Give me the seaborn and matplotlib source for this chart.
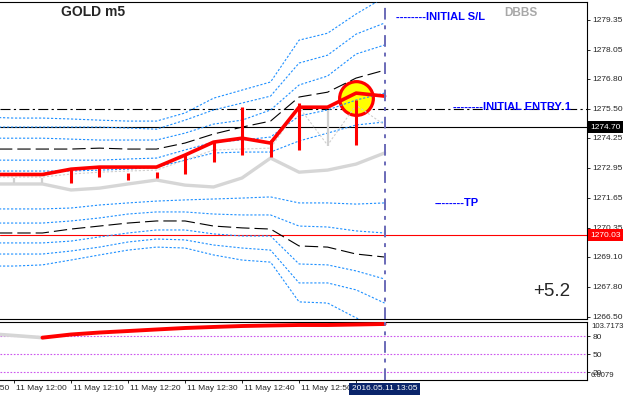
import numpy as np
import pandas as pd
import matplotlib
matplotlib.use('Agg')
import matplotlib.pyplot as plt
import matplotlib.transforms as mtransforms
import seaborn as sns

# 5 minute bars, 11:55 is only partly on screen
times = ['11:55', '12:00', '12:05', '12:10', '12:15', '12:20', '12:25', '12:30',
         '12:35', '12:40', '12:45', '12:50', '12:55', '13:00', '13:05']

# close line and the light gray lines under it
close_line = [1272.66, 1272.66, 1272.66, 1272.89, 1272.98, 1272.98, 1272.98, 1273.50,
              1274.06, 1274.23, 1274.02, 1275.57, 1275.57, 1276.18, 1276.05]
gray_line = [1272.25, 1272.25, 1272.25, 1271.99, 1272.07, 1272.25, 1272.42, 1272.20,
             1272.12, 1272.51, 1273.37, 1272.76, 1272.85, 1273.11, 1273.59]
gray_dots = [1272.55, 1272.55, 1272.55, 1272.68, 1272.76, 1272.81, 1272.85, 1273.28,
             1273.72, 1273.76, 1273.80, 1275.57, 1273.93, 1275.66, 1274.80]

# upper band set
up_mid = [1273.76, 1273.76, 1273.76, 1273.76, 1273.80, 1273.76, 1273.76, 1274.02,
          1274.41, 1274.71, 1274.97, 1276.01, 1276.22, 1276.83, 1277.17]
up_p3 = [1275.14, 1275.10, 1275.10, 1275.06, 1275.01, 1274.97, 1274.97, 1275.32,
         1275.96, 1276.31, 1276.66, 1278.47, 1278.77, 1279.60, 1280.33]
up_p2 = [1274.71, 1274.71, 1274.71, 1274.71, 1274.71, 1274.67, 1274.62, 1275.01,
         1275.45, 1275.75, 1276.05, 1277.48, 1277.82, 1278.73, 1279.21]
up_p1 = [1274.23, 1274.23, 1274.23, 1274.19, 1274.15, 1274.15, 1274.15, 1274.45,
         1274.84, 1275.01, 1275.45, 1276.53, 1276.92, 1277.87, 1278.26]
up_m1 = [1273.28, 1273.28, 1273.28, 1273.28, 1273.28, 1273.33, 1273.37, 1273.72,
         1274.06, 1274.15, 1274.28, 1275.19, 1275.45, 1275.88, 1276.18]
up_m2 = [1272.81, 1272.81, 1272.81, 1272.81, 1272.85, 1272.89, 1272.98, 1273.28,
         1273.59, 1273.63, 1273.63, 1274.11, 1274.45, 1274.80, 1274.93]

# lower band set
lo_mid = [1270.13, 1270.13, 1270.13, 1270.30, 1270.43, 1270.56, 1270.65, 1270.65,
          1270.43, 1270.35, 1270.30, 1269.57, 1269.52, 1269.22, 1269.09]
lo_p2 = [1271.17, 1271.17, 1271.17, 1271.21, 1271.34, 1271.43, 1271.51, 1271.56,
         1271.60, 1271.64, 1271.69, 1271.43, 1271.43, 1271.38, 1271.43]
lo_p1 = [1270.56, 1270.56, 1270.56, 1270.65, 1270.78, 1270.95, 1271.04, 1271.04,
         1270.95, 1270.91, 1270.91, 1270.43, 1270.39, 1270.22, 1270.13]
lo_m1 = [1269.70, 1269.70, 1269.70, 1269.78, 1269.96, 1270.13, 1270.26, 1270.26,
         1270.09, 1270.00, 1270.00, 1268.79, 1268.75, 1268.49, 1268.14]
lo_m2 = [1269.22, 1269.22, 1269.22, 1269.35, 1269.52, 1269.74, 1269.87, 1269.83,
         1269.61, 1269.48, 1269.39, 1267.97, 1267.97, 1267.67, 1267.10]
lo_m3 = [1268.70, 1268.70, 1268.75, 1268.96, 1269.18, 1269.39, 1269.52, 1269.48,
         1269.18, 1268.96, 1268.87, 1267.15, 1267.10, 1266.46, 1265.94]

# red and gray bar wicks
wick_times = ['12:10', '12:15', '12:20', '12:25', '12:30', '12:35', '12:40', '12:45', '12:50', '13:00']
wick_top = [1272.94, 1273.02, 1272.72, 1272.76, 1273.50, 1274.06, 1275.57, 1274.15, 1275.75, 1275.88]
wick_bottom = [1272.29, 1272.55, 1272.42, 1272.51, 1272.68, 1273.20, 1273.50, 1273.41, 1273.72, 1273.93]
gray_wick_times = ['12:00', '12:05', '12:55']
gray_wick_top = [1272.51, 1272.51, 1275.45]
gray_wick_bottom = [1272.29, 1272.29, 1273.89]

# signal circle
signal_time = ['13:00']
signal_price = [1275.97]

# horizontal levels
entry_level = 1275.50
bid_level = 1274.70
red_level = 1270.03

price_ticks = [1279.35, 1278.05, 1276.80, 1275.50, 1274.25, 1272.95, 1271.65,
               1270.35, 1269.10, 1267.80, 1266.50]

# oscillator in the lower window
osc = [84.5, 81.1, 77.5, 82.8, 86.1, 88.6, 91.2, 93.7, 95.4, 97.0, 97.9, 98.7, 98.7, 99.5, 100.4]
osc_min, osc_max = 6.6079, 103.7173
osc_levels = [80, 50, 20]

tick_times = ['11:50', '12:00', '12:10', '12:20', '12:30', '12:40', '12:50']
mark_times = ['12:00', '12:10', '12:20', '12:30', '12:40', '12:50', '13:00']


def bar_pos(tt):
    t = pd.to_datetime(pd.Series(tt), format='%H:%M')
    return ((t - pd.to_datetime('12:00', format='%H:%M')) / pd.Timedelta(minutes=5)).to_numpy()


x = bar_pos(times)

sns.set_style('white')
plt.rcParams['font.family'] = ['Liberation Sans', 'DejaVu Sans']

fig = plt.figure(figsize=(6.25, 3.99), dpi=100)
ax = fig.add_axes([0, 80 / 399, 587 / 625, 317 / 399])
ax2 = fig.add_axes([0, 19 / 399, 587 / 625, 58 / 399])

blue = '#1E90FF'
dot = (0, (2, 1.6))
dash = (0, (12, 4.5))

# horizontal levels
ax.axhline(entry_level, color='black', lw=0.8, linestyle=(0, (9, 3, 2, 3)), zorder=1)
ax.axhline(bid_level, color='black', lw=0.8, zorder=1)
ax.axhline(red_level, color='red', lw=0.8, zorder=1)

# signal circle
sns.scatterplot(x=bar_pos(signal_time), y=signal_price, ax=ax, s=590, color='yellow',
                edgecolor='red', linewidth=2.3, zorder=2)

for band in [up_p3, up_p2, up_p1, up_m1, up_m2, lo_p2, lo_p1, lo_m1, lo_m2, lo_m3]:
    sns.lineplot(x=x, y=band, ax=ax, color=blue, lw=0.8, linestyle=dot, zorder=3)
for mid in [up_mid, lo_mid]:
    sns.lineplot(x=x, y=mid, ax=ax, color='black', lw=0.8, linestyle=dash, zorder=3)

sns.lineplot(x=x, y=gray_line, ax=ax, color='#D6D6D6', lw=2.4, zorder=3)
sns.lineplot(x=x, y=gray_dots, ax=ax, color='#CFCFCF', lw=0.8, linestyle=dot, zorder=3)

ax.vlines(bar_pos(gray_wick_times), gray_wick_bottom, gray_wick_top, color='#D0D0D0', lw=1.6, zorder=4)
ax.vlines(bar_pos(wick_times), wick_bottom, wick_top, color='red', lw=2.2, zorder=5)
sns.lineplot(x=x, y=close_line, ax=ax, color='red', lw=2.6, zorder=5)

vline_style = dict(color='#6A6AB8', lw=1.4, linestyle=(0, (6, 3, 2, 3)), zorder=6)
ax.axvline(x[-1], **vline_style)
ax2.axvline(x[-1], **vline_style)

ax.set_xlim(-0.49, 20.1)
ax.set_ylim(1266.41, 1280.12)
ax.set_xticks([])
ax.yaxis.tick_right()
ax.set_yticks(price_ticks)
ax.set_yticklabels([f'{p:.2f}' for p in price_ticks])
ax.tick_params(axis='y', direction='out', length=2.5, width=0.7, pad=1.5, labelsize=6)
ax.set_xlabel('')
ax.set_ylabel('')

# price boxes on the scale
right_trans = mtransforms.offset_copy(ax.get_yaxis_transform(), fig=fig, x=3, y=0, units='dots')
ax.text(1.0, bid_level, '1274.70', transform=right_trans, ha='left', va='center', fontsize=6,
        color='white', clip_on=False, zorder=10,
        bbox=dict(boxstyle='square,pad=0.3', fc='black', ec='none'))
ax.text(1.0, red_level, '1270.03', transform=right_trans, ha='left', va='center', fontsize=6,
        color='white', clip_on=False, zorder=10,
        bbox=dict(boxstyle='square,pad=0.3', fc='red', ec='none'))

# chart texts
ax.text(0.104, 0.968, 'GOLD m5', transform=ax.transAxes, fontsize=10, fontweight='bold',
        ha='left', va='center')
ax.text(0.859, 0.965, 'DBBS', transform=ax.transAxes, fontsize=8.5, fontweight='bold',
        color='#A8A8A8', ha='left', va='center')
ax.text(0.6746, 0.952, '--------INITIAL S/L', transform=ax.transAxes, fontsize=8,
        fontweight='bold', color='blue', ha='left', va='center')
ax.text(0.7717, 0.669, '--------INITIAL ENTRY 1', transform=ax.transAxes, fontsize=8,
        fontweight='bold', color='blue', ha='left', va='center')
ax.text(0.741, 0.366, '--------TP', transform=ax.transAxes, fontsize=8,
        fontweight='bold', color='blue', ha='left', va='center')
ax.text(0.908, 0.088, '+5.2', transform=ax.transAxes, fontsize=13.5, ha='left', va='center')

# lower window
for lvl in osc_levels:
    ax2.axhline(lvl, color='#CC55EE', lw=0.8, linestyle=(0, (1.5, 1.5)), zorder=1)
sns.lineplot(x=x[:3], y=osc[:3], ax=ax2, color='#D6D6D6', lw=2.6, zorder=3)
sns.lineplot(x=x[2:], y=osc[2:], ax=ax2, color='red', lw=2.8, zorder=4)

ax2.set_xlim(-0.49, 20.1)
ax2.set_ylim(osc_min, osc_max)
ax2.yaxis.tick_right()
ax2.set_yticks(osc_levels)
ax2.set_yticklabels([str(v) for v in osc_levels])
ax2.tick_params(axis='y', direction='out', length=2.5, width=0.7, pad=1.5, labelsize=6)
ax2.set_xticks(bar_pos(mark_times))
ax2.set_xticklabels([])
ax2.tick_params(axis='x', direction='out', length=2.5, width=0.7, bottom=True)
ax2.set_xlabel('')
ax2.set_ylabel('')

sub_right = mtransforms.offset_copy(ax2.transAxes, fig=fig, x=4, y=0, units='dots')
ax2.text(1.0, 0.914, f'{osc_max:.4f}', transform=sub_right, ha='left', va='center', fontsize=5.6)
ax2.text(1.0, 0.08, f'{osc_min:.4f}', transform=sub_right, ha='left', va='center', fontsize=5.6)

lab_trans = mtransforms.offset_copy(ax2.get_xaxis_transform(), fig=fig, x=2, y=0, units='dots')
for t, tt in zip(bar_pos(tick_times), tick_times):
    ax2.text(t, -0.155, '11 May ' + tt, transform=lab_trans, ha='left', va='center',
             fontsize=6, clip_on=False)
ax2.text(x[-1], -0.155, '2016.05.11 ' + times[-1], transform=ax2.get_xaxis_transform(),
         ha='center', va='center', fontsize=6, color='white', clip_on=False, zorder=10,
         bbox=dict(boxstyle='square,pad=0.3', fc='#0A246A', ec='none'))

for a in (ax, ax2):
    a.spines['left'].set_visible(False)
    for s in ('top', 'bottom', 'right'):
        a.spines[s].set_color('black')
        a.spines[s].set_linewidth(0.8)
    a.grid(False)

fig.savefig('out.png', dpi=100, facecolor='white')
plt.close(fig)
